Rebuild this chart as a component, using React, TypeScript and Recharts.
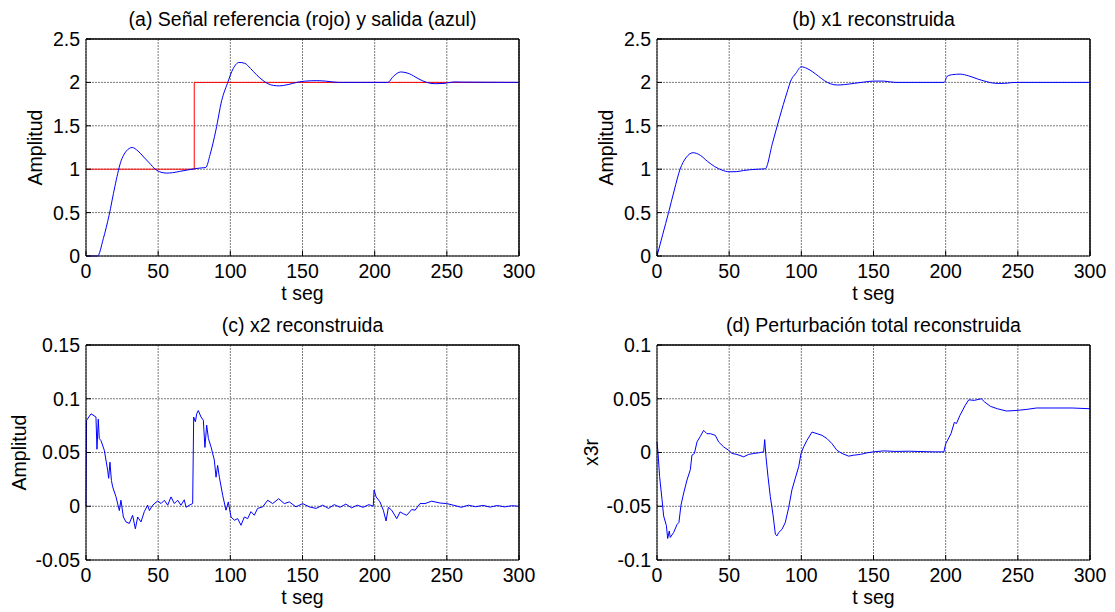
import { CartesianGrid, Line, LineChart, ReferenceLine, XAxis, YAxis } from "recharts";

const FONT = "'Liberation Sans', Arial, Helvetica, sans-serif";
const FS = 19.5;

// eje de tiempo común
const X_TICKS = [0, 50, 100, 150, 200, 250, 300];

// (a) referencia (rojo) y salida (azul)
const refT = [0, 75, 300];
const refV = [1, 2, 2];
const outT = [0, 8, 12, 16, 20, 24, 28, 32, 36, 40, 44, 48, 52, 56, 60, 65, 70, 75, 80, 83, 86, 90, 94, 98, 102, 106, 110, 114, 118, 122, 126, 130, 134, 140, 146, 152, 160, 166, 175, 190, 209, 213, 218, 224, 230, 236, 242, 248, 255, 262, 300];
const outV = [0, 0, 0.2, 0.47, 0.8, 1.08, 1.21, 1.25, 1.21, 1.14, 1.07, 1.0, 0.965, 0.955, 0.96, 0.975, 0.99, 1.005, 1.015, 1.02, 1.17, 1.45, 1.79, 1.99, 2.16, 2.23, 2.22, 2.16, 2.09, 2.03, 1.985, 1.965, 1.96, 1.975, 2.0, 2.015, 2.02, 2.015, 2.0, 2.0, 2.0, 2.07, 2.12, 2.1, 2.045, 2.0, 1.985, 1.988, 2.005, 2.003, 2.0];

// (b) x1 reconstruida
const x1T = [0, 4, 8, 12, 16, 20, 25, 30, 35, 40, 45, 50, 55, 60, 65, 70, 75, 80, 85, 90, 93, 96, 100, 104, 108, 112, 116, 120, 125, 130, 137, 144, 150, 157, 165, 199, 201, 205, 210, 216, 222, 228, 234, 240, 246, 252, 300];
const x1V = [0, 0.25, 0.5, 0.76, 1.0, 1.13, 1.19, 1.16, 1.09, 1.03, 0.99, 0.97, 0.972, 0.985, 0.995, 1.0, 1.005, 1.3, 1.6, 1.88, 2.03, 2.1, 2.18, 2.16, 2.12, 2.07, 2.02, 1.985, 1.97, 1.975, 1.99, 2.005, 2.015, 2.015, 2.0, 2.0, 2.07, 2.09, 2.095, 2.075, 2.04, 2.01, 1.99, 1.988, 1.998, 2.0, 2.0];

// (c) x2 reconstruida
const x2T = [0, 0.4, 3.5, 6.9, 7.6, 8.5, 9.2, 10.4, 12.7, 15, 15.7, 16.6, 17.6, 18.5, 20.8, 23.1, 24.2, 25.9, 27.7, 30, 32.3, 34.2, 35.8, 38.1, 40.4, 42.7, 43.9, 46.2, 49.7, 52, 54.3, 56.6, 58.9, 61.2, 63.5, 65.8, 68.1, 69.3, 71.6, 73.9, 74.6, 75.8, 76.7, 77.8, 79.7, 81.3, 82.4, 83.6, 84.8, 86.6, 88.9, 90.1, 91.2, 92.4, 94.7, 97, 98.6, 100.5, 102.8, 105.1, 107.4, 109.7, 112, 114.3, 116.6, 118.9, 122.4, 125.9, 129.3, 133.5, 137.4, 140.9, 145.5, 150.1, 154.7, 159.4, 164, 168, 172, 176, 180, 184, 188, 192, 196, 199, 199.6, 201, 203.7, 206, 207.9, 209.5, 211.8, 215.3, 217.6, 219.9, 222.2, 225.7, 228, 231.4, 234.9, 239.5, 245.3, 249.9, 254.5, 260, 265, 270, 275, 280, 285, 290, 295, 300];
const x2V = [0, 0.08, 0.086, 0.083, 0.053, 0.081, 0.063, 0.061, 0.052, 0.0335, 0.026, 0.041, 0.024, 0.018, 0.0087, -0.004, 0.0056, -0.01, -0.0146, -0.016, -0.0084, -0.021, -0.01, -0.0146, -0.005, 0.001, -0.004, 0.001, 0.005, 0.0025, 0.0056, 0.001, 0.0087, 0.0025, 0.0056, 0.001, 0.006, -0.001, 0.001, 0.0025, 0.083, 0.0786, 0.086, 0.089, 0.083, 0.08, 0.0547, 0.0755, 0.063, 0.0553, 0.043, 0.027, 0.038, 0.027, 0.0102, -0.0037, 0.004, -0.01, -0.013, -0.0115, -0.0177, -0.01, -0.0115, -0.005, -0.0084, -0.002, -0.0006, 0.0056, 0.0025, 0.007, 0.0025, 0.004, -0.0006, 0.0025, -0.0006, -0.002, 0.001, -0.002, 0.0015, -0.001, 0.002, -0.0015, 0.001, -0.001, 0.0015, 0, 0.015, 0.0087, 0.004, -0.0037, -0.0137, -0.001, -0.0037, -0.0115, -0.0053, -0.007, -0.0084, -0.003, -0.0037, 0.0025, 0.0025, 0.0047, 0.003, 0.0025, 0.001, -0.001, 0.001, -0.0005, 0.0008, -0.0008, 0.0007, -0.0006, 0.0005, 0];

// (d) perturbación total reconstruida
const x3T = [0, 0.7, 1.8, 3.5, 4.6, 6.5, 7.4, 8.5, 9.2, 11.5, 13.9, 15.2, 16.6, 18.5, 20.8, 23.1, 24.2, 25.9, 27.7, 30, 32.3, 34.6, 37, 40.4, 42.7, 46.2, 49.7, 52, 55.4, 60, 63.5, 67, 70.4, 73.9, 74.6, 75.5, 76.9, 78.5, 80.4, 82, 83.1, 84.3, 86.6, 88.9, 91.2, 93.5, 95.8, 98.2, 99.8, 101.6, 103.9, 107.4, 110.9, 114.3, 117.8, 121.2, 124.7, 128.2, 132.8, 136.3, 140.9, 145.5, 150.1, 157, 165, 175, 185, 192, 198.8, 200, 203.7, 206, 207.5, 209.9, 213.6, 216, 219.8, 224.7, 227, 230.9, 235.8, 242, 248, 255.6, 263, 275, 287.6, 300];
const x3V = [0.0098, 0, -0.0224, -0.044, -0.059, -0.068, -0.08, -0.073, -0.079, -0.0745, -0.067, -0.065, -0.049, -0.0377, -0.0255, -0.016, -0.0025, -0.001, 0.0098, 0.015, 0.0206, 0.0175, 0.0175, 0.016, 0.0098, 0.0052, 0.002, -0.0009, -0.0018, -0.004, -0.0018, -0.0009, -0.0003, 0.0006, 0.012, -0.004, -0.0224, -0.041, -0.058, -0.076, -0.0776, -0.0745, -0.0715, -0.065, -0.0515, -0.0347, -0.024, -0.013, -0.0009, 0.0052, 0.0113, 0.019, 0.0175, 0.016, 0.0129, 0.0083, 0.002, -0.0009, -0.0034, -0.0025, -0.0018, -0.0003, 0.0006, 0.0015, 0.001, 0.0012, 0.0008, 0.0006, 0.0006, 0.008, 0.0176, 0.028, 0.027, 0.0346, 0.044, 0.049, 0.0485, 0.05, 0.047, 0.043, 0.0407, 0.0386, 0.039, 0.04, 0.0414, 0.0414, 0.0414, 0.0407];

const zip = (ts: number[], vs: number[]) => ts.map((t, i) => ({ t, v: vs[i] }));

interface Serie {
  data: { t: number; v: number }[];
  color: string;
  type: "linear" | "monotone" | "stepAfter";
}

interface PanelProps {
  left: number;
  top: number;
  width: number;
  height: number;
  title: string;
  yLabel: string;
  yLabelOffset: number;
  yAxisWidth: number;
  xAxisHeight: number;
  xLabelOffset: number;
  marginTop: number;
  marginRight: number;
  yDomain: [number, number];
  yTicks: number[];
  series: Serie[];
}

const tickStyle = { fill: "#000", fontSize: FS, fontFamily: FONT };
const labelStyle = { fill: "#000", fontSize: FS, fontFamily: FONT };

const Panel = (p: PanelProps) => (
  <div style={{ position: "absolute", left: p.left, top: p.top }}>
    <LineChart
      width={p.width}
      height={p.height}
      margin={{ top: p.marginTop - 1, right: p.marginRight - 1, bottom: 0, left: 0 }}
    >
      <CartesianGrid stroke="#7a7a7a" strokeDasharray="2 1" />
      <XAxis
        dataKey="t"
        type="number"
        domain={[0, 300]}
        ticks={X_TICKS}
        interval={0}
        height={p.xAxisHeight}
        tickSize={-5}
        tickMargin={13}
        tick={tickStyle}
        axisLine={{ stroke: "#000" }}
        tickLine={{ stroke: "#000" }}
        label={{ value: "t seg", position: "insideBottom", offset: p.xLabelOffset, style: labelStyle }}
      />
      <XAxis
        xAxisId="top"
        dataKey="t"
        orientation="top"
        type="number"
        domain={[0, 300]}
        allowDataOverflow
        ticks={X_TICKS}
        interval={0}
        height={1}
        tickSize={-5}
        tick={false}
        axisLine={{ stroke: "#000" }}
        tickLine={{ stroke: "#000" }}
      />
      <YAxis
        type="number"
        domain={p.yDomain}
        ticks={p.yTicks}
        interval={0}
        width={p.yAxisWidth}
        tickSize={-5}
        tickMargin={11}
        tick={tickStyle}
        axisLine={{ stroke: "#000" }}
        tickLine={{ stroke: "#000" }}
        label={{
          value: p.yLabel,
          angle: -90,
          position: "insideLeft",
          offset: p.yLabelOffset,
          style: { ...labelStyle, textAnchor: "middle" },
        }}
      />
      <YAxis
        yAxisId="right"
        orientation="right"
        type="number"
        domain={p.yDomain}
        allowDataOverflow
        ticks={p.yTicks}
        interval={0}
        width={1}
        tickSize={-5}
        tick={false}
        axisLine={{ stroke: "#000" }}
        tickLine={{ stroke: "#000" }}
      />
      {p.series.map((s, i) => (
        <Line
          key={i}
          data={s.data}
          dataKey="v"
          type={s.type}
          stroke={s.color}
          strokeWidth={1}
          dot={false}
          activeDot={false}
          isAnimationActive={false}
        />
      ))}
      <ReferenceLine
        y={p.yDomain[1]}
        stroke="#000"
        label={{ value: p.title, position: "top", offset: 13, style: labelStyle }}
      />
      <ReferenceLine x={300} stroke="#000" />
    </LineChart>
  </div>
);

export default function App() {
  return (
    <div
      style={{
        position: "absolute",
        left: 0,
        top: 0,
        width: 1115,
        height: 612,
        background: "#fff",
        overflow: "hidden",
      }}
    >
      <Panel
        left={0}
        top={0}
        width={557}
        height={306}
        title="(a) Señal referencia (rojo) y salida (azul)"
        yLabel="Amplitud"
        yLabelOffset={35}
        yAxisWidth={86}
        xAxisHeight={50}
        xLabelOffset={6.5}
        marginTop={39}
        marginRight={38}
        yDomain={[0, 2.5]}
        yTicks={[0, 0.5, 1, 1.5, 2, 2.5]}
        series={[
          { data: zip(refT, refV), color: "#ff0000", type: "stepAfter" },
          { data: zip(outT, outV), color: "#0000ff", type: "monotone" },
        ]}
      />
      <Panel
        left={557}
        top={0}
        width={558}
        height={306}
        title="(b) x1 reconstruida"
        yLabel="Amplitud"
        yLabelOffset={49}
        yAxisWidth={100}
        xAxisHeight={50}
        xLabelOffset={6.5}
        marginTop={39}
        marginRight={25}
        yDomain={[0, 2.5]}
        yTicks={[0, 0.5, 1, 1.5, 2, 2.5]}
        series={[{ data: zip(x1T, x1V), color: "#0000ff", type: "monotone" }]}
      />
      <Panel
        left={0}
        top={306}
        width={557}
        height={306}
        title="(c) x2 reconstruida"
        yLabel="Amplitud"
        yLabelOffset={19}
        yAxisWidth={86}
        xAxisHeight={52}
        xLabelOffset={8.5}
        marginTop={39}
        marginRight={38}
        yDomain={[-0.05, 0.15]}
        yTicks={[-0.05, 0, 0.05, 0.1, 0.15]}
        series={[{ data: zip(x2T, x2V), color: "#0000ff", type: "linear" }]}
      />
      <Panel
        left={557}
        top={306}
        width={558}
        height={306}
        title="(d) Perturbación total reconstruida"
        yLabel="x3r"
        yLabelOffset={34}
        yAxisWidth={100}
        xAxisHeight={52}
        xLabelOffset={8.5}
        marginTop={39}
        marginRight={25}
        yDomain={[-0.1, 0.1]}
        yTicks={[-0.1, -0.05, 0, 0.05, 0.1]}
        series={[{ data: zip(x3T, x3V), color: "#0000ff", type: "linear" }]}
      />
    </div>
  );
}
